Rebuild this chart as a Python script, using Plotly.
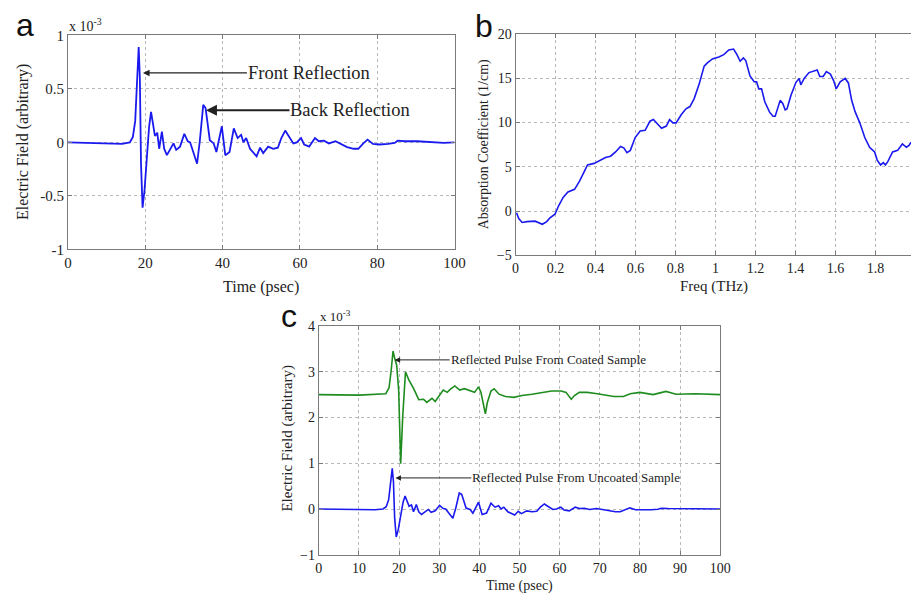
import plotly.graph_objects as go

# ---------------- data ----------------
a_time = [0, 5, 10, 14, 16, 16.8, 17.4, 17.9, 18.3, 18.6,
          18.9, 19.3, 19.8, 20.5, 21.0, 21.5, 22.0, 22.5, 23.1, 23.6,
          24.3, 24.9, 25.6, 26.7, 27.3, 28.0, 29.0, 30.1, 31.0, 31.6,
          32.4, 33.4, 34.1, 35.0, 35.6, 36.7, 37.7, 38.4, 39.8, 40.7,
          41.8, 42.9, 43.9, 44.8, 45.4, 46.1, 47.1, 48.8, 49.7, 50.5,
          51.8, 53.1, 54.3, 55.2, 56.2, 57.3, 58.3, 59.2, 60.3, 61.1,
          62.4, 63.9, 64.9, 66.2, 67.5, 69.2, 70.9, 72.2, 73.9, 75.1,
          76.4, 77.5, 78.9, 80.6, 82.8, 84.5, 85.3, 87.0, 90.4, 93.8,
          97.2, 100]
a_field = [0, -0.005, -0.012, -0.015, 0.0, 0.05, 0.2, 0.55, 0.89, 0.6,
           -0.2, -0.61, -0.45, -0.1, 0.15, 0.285, 0.18, 0.06, 0.09, -0.06,
           0.1, -0.06, -0.12, -0.04, -0.01, -0.07, -0.04, 0.08, 0.01, 0.0,
           -0.09, -0.2, 0.01, 0.35, 0.32, 0.02, -0.01, -0.09, 0.15, -0.12,
           -0.09, 0.13, 0.04, 0.07, 0.0, 0.04, -0.06, -0.13, -0.05, -0.1,
           -0.04, -0.06, -0.05, 0.04, 0.11, 0.05, -0.01, 0.0, 0.04, -0.02,
           -0.04, 0.04, 0.01, 0.015, -0.01, 0.01, -0.02, -0.045, -0.06, -0.06,
           -0.01, 0.025, -0.015, -0.02, -0.015, -0.006, 0.015, 0.01, 0.01, 0.003,
           -0.005, 0.0]

b_freq = [0.005, 0.016, 0.033, 0.057, 0.098, 0.123, 0.134, 0.156, 0.172, 0.197,
          0.216, 0.238, 0.262, 0.295, 0.32, 0.344, 0.36, 0.393, 0.426, 0.45,
          0.475, 0.5, 0.525, 0.541, 0.557, 0.574, 0.598, 0.623, 0.648, 0.672,
          0.689, 0.705, 0.73, 0.754, 0.77, 0.787, 0.803, 0.828, 0.852, 0.872,
          0.893, 0.918, 0.943, 0.959, 0.984, 1.016, 1.041, 1.066, 1.09, 1.107,
          1.123, 1.139, 1.151, 1.172, 1.193, 1.205, 1.216, 1.23, 1.246, 1.27,
          1.287, 1.298, 1.311, 1.323, 1.336, 1.348, 1.357, 1.377, 1.402, 1.418,
          1.426, 1.443, 1.467, 1.5, 1.508, 1.521, 1.538, 1.554, 1.574, 1.59,
          1.603, 1.623, 1.648, 1.664, 1.68, 1.697, 1.721, 1.746, 1.77, 1.795,
          1.808, 1.825, 1.839, 1.849, 1.861, 1.885, 1.91, 1.934, 1.954, 1.967,
          1.977]
b_absorption = [-0.2, -0.85, -1.3, -1.2, -1.15, -1.4, -1.5, -1.2, -0.77, -0.37,
                0.62, 1.54, 2.16, 2.45, 3.37, 4.47, 5.2, 5.38, 5.75, 6.04,
                6.19, 6.67, 7.29, 7.14, 6.59, 6.85, 8.3, 9.05, 9.12, 10.15,
                10.33, 9.96, 9.34, 9.6, 10.33, 9.96, 9.96, 10.88, 11.54, 11.8,
                12.7, 14.36, 16.37, 16.74, 17.18, 17.4, 17.66, 18.2, 18.3, 17.66,
                16.92, 17.29, 17.0, 15.27, 14.6, 14.6, 13.8, 13.8, 12.34, 11.17,
                10.7, 10.7, 11.6, 12.5, 12.16, 11.43, 11.54, 13.08, 14.54, 14.98,
                14.25, 14.98, 15.64, 15.82, 15.93, 15.2, 15.2, 15.75, 15.46, 14.73,
                13.8, 14.6, 14.98, 14.47, 12.53, 11.25, 9.96, 8.3, 7.2, 6.67,
                5.75, 5.2, 5.46, 5.2, 5.57, 6.67, 6.85, 7.58, 7.2, 7.4,
                7.77]

c_time = [0, 10, 16.7, 17.5, 18.0, 18.5, 18.9, 19.4, 19.9, 20.4,
          20.9, 21.6, 22.4, 23.7, 24.9, 26.1, 26.9, 28.2, 29.0, 30.2,
          31.0, 32.0, 32.8, 33.9, 35.1, 36.3, 37.6, 38.8, 39.8, 40.4,
          41.5, 42.0, 42.9, 43.7, 44.9, 46.5, 48.6, 50.6, 53.1, 55.5,
          58.0, 60.4, 61.6, 62.9, 63.7, 64.9, 66.9, 69.4, 71.8, 73.5,
          75.9, 77.6, 80.0, 83.3, 86.5, 89.0, 93.9, 100]
c_coated = [2.5, 2.49, 2.52, 2.65, 3.0, 3.45, 3.3, 3.15, 2.6, 0.99,
            2.0, 3.0, 2.83, 2.62, 2.39, 2.4, 2.33, 2.42, 2.35, 2.51,
            2.6, 2.55, 2.62, 2.69, 2.6, 2.63, 2.58, 2.55, 2.67, 2.55,
            2.08, 2.33, 2.58, 2.63, 2.51, 2.46, 2.44, 2.48, 2.51, 2.55,
            2.58, 2.58, 2.55, 2.4, 2.48, 2.55, 2.55, 2.52, 2.48, 2.46,
            2.46, 2.52, 2.55, 2.5, 2.57, 2.51, 2.52, 2.5]
c_uncoated_time = a_time
c_uncoated = a_field

a_xticks = [0, 20, 40, 60, 80, 100]
a_yticks = [-1, -0.5, 0, 0.5, 1]
a_ytick_labels = ["-1", "-0.5", "0", "0.5", "1"]
b_xticks = [0, 0.2, 0.4, 0.6, 0.8, 1.0, 1.2, 1.4, 1.6, 1.8]
b_xtick_labels = ["0", "0.2", "0.4", "0.6", "0.8", "1", "1.2", "1.4", "1.6", "1.8"]
b_yticks = [-5, 0, 5, 10, 15, 20]
c_xticks = [0, 10, 20, 30, 40, 50, 60, 70, 80, 90, 100]
c_yticks = [-1, 0, 1, 2, 3, 4]

# ---------------- figure ----------------
W, H = 922, 602
SERIF = "Liberation Serif, Times New Roman, DejaVu Serif, serif"
BLUE = "#1a1aee"
GREEN = "#1e8c1e"
TXT = "#222222"


def fx(px):
    return px / W


def fy(py):
    return 1 - py / H


fig = go.Figure()
fig.add_trace(go.Scatter(x=a_time, y=a_field, mode="lines",
                         line=dict(color=BLUE, width=1.8), xaxis="x", yaxis="y",
                         showlegend=False))
fig.add_trace(go.Scatter(x=b_freq, y=b_absorption, mode="lines",
                         line=dict(color=BLUE, width=1.6), xaxis="x2", yaxis="y2",
                         showlegend=False))
fig.add_trace(go.Scatter(x=c_time, y=c_coated, mode="lines",
                         line=dict(color=GREEN, width=1.6), xaxis="x3", yaxis="y3",
                         showlegend=False))
fig.add_trace(go.Scatter(x=c_uncoated_time, y=c_uncoated, mode="lines",
                         line=dict(color=BLUE, width=1.6), xaxis="x3", yaxis="y3",
                         showlegend=False))

common = dict(showgrid=True, gridcolor="#b8b8b8", griddash="dot", gridwidth=1,
              zeroline=False, showline=True, linecolor="#7a7a7a", linewidth=1,
              ticks="inside", ticklen=4, tickcolor="#7a7a7a",
              tickfont=dict(family=SERIF, size=15, color=TXT))

fig.update_layout(
    width=W, height=H, margin=dict(l=0, r=0, t=0, b=0),
    paper_bgcolor="white", plot_bgcolor="white",
    font=dict(family=SERIF, color=TXT),
    xaxis=dict(common, domain=[fx(65), fx(458)], range=[0, 100], tickvals=a_xticks,
               anchor="y", mirror="ticks"),
    yaxis=dict(common, domain=[fy(248), fy(28)], range=[-1, 1], tickvals=a_yticks,
               ticktext=a_ytick_labels, anchor="x", mirror="ticks"),
    xaxis2=dict(common, domain=[fx(520), 1.0], range=[0, 1.977], tickvals=b_xticks,
                ticktext=b_xtick_labels, anchor="y2", mirror="ticks",
                tickfont=dict(family=SERIF, size=14, color=TXT)),
    yaxis2=dict(common, domain=[fy(254), fy(26.7)], range=[-5, 20], tickvals=b_yticks,
                anchor="x2", mirror=False,
                tickfont=dict(family=SERIF, size=14, color=TXT)),
    xaxis3=dict(common, domain=[fx(320), fx(728)], range=[0, 100], tickvals=c_xticks,
                anchor="y3", mirror="ticks",
                tickfont=dict(family=SERIF, size=14, color=TXT)),
    yaxis3=dict(common, domain=[fy(561.7), fy(326.7)], range=[-1, 4], tickvals=c_yticks,
                anchor="x3", mirror="ticks",
                tickfont=dict(family=SERIF, size=14, color=TXT)),
)

ann = []
# panel letters
for letter, x, y in [("a", 21, 17), ("b", 488, 18), ("c", 290, 316)]:
    ann.append(dict(text=letter, x=fx(x), y=fy(y), xref="paper", yref="paper",
                    showarrow=False, xanchor="center", yanchor="middle",
                    font=dict(family="Liberation Sans, Arial, sans-serif", size=32,
                              color="#111111")))
# exponent labels
ann.append(dict(text="x 10<sup>-3</sup>", x=fx(64), y=fy(17), xref="paper", yref="paper",
                showarrow=False, xanchor="left", yanchor="middle",
                font=dict(family=SERIF, size=14, color=TXT)))
ann.append(dict(text="x 10<sup>-3</sup>", x=fx(319), y=fy(316), xref="paper", yref="paper",
                showarrow=False, xanchor="left", yanchor="middle",
                font=dict(family=SERIF, size=13, color=TXT)))
# axis titles
for text, x, y, ang, size in [
    ("Time (psec)", 261, 287, 0, 16),
    ("Electric Field (arbitrary)", 20, 138, -90, 16),
    ("Freq (THz)", 722, 286, 0, 15),
    ("Absorption Coefficient (1/cm)", 488, 140, -90, 14),
    ("Time (psec)", 524, 594, 0, 14),
    ("Electric Field (arbitrary)", 288, 442, -90, 15),
]:
    ann.append(dict(text=text, x=fx(x), y=fy(y), xref="paper", yref="paper",
                    showarrow=False, xanchor="center", yanchor="middle", textangle=ang,
                    font=dict(family=SERIF, size=size, color=TXT)))

# callouts: (axis suffix, head x, y, tail x, text, fontsize, arrow width)
callouts = [
    ("", 19.4, 0.648, 46.3, "Front Reflection", 18.5, 1.2),
    ("", 35.7, 0.30, 57.3, "Back Reflection", 18.5, 2.0),
    ("3", 18.9, 3.26, 32.6, "Reflected Pulse From Coated Sample", 13, 1.0),
    ("3", 19.1, 0.68, 38.0, "Reflected Pulse From Uncoated Sample", 13, 1.0),
]
for sfx, hx, hy, tx, text, fs, aw in callouts:
    xr, yr = "x" + sfx, "y" + sfx
    ann.append(dict(text=text, x=hx, y=hy, xref=xr, yref=yr, ax=tx, ay=hy,
                    axref=xr, ayref=yr, showarrow=True, arrowhead=2, arrowsize=1.1,
                    arrowwidth=aw, arrowcolor="#222222", standoff=0, startstandoff=0,
                    xanchor="left", yanchor="middle", borderpad=0,
                    font=dict(family=SERIF, size=fs, color=TXT)))

fig.update_layout(annotations=ann)
fig.write_html("out.html")
